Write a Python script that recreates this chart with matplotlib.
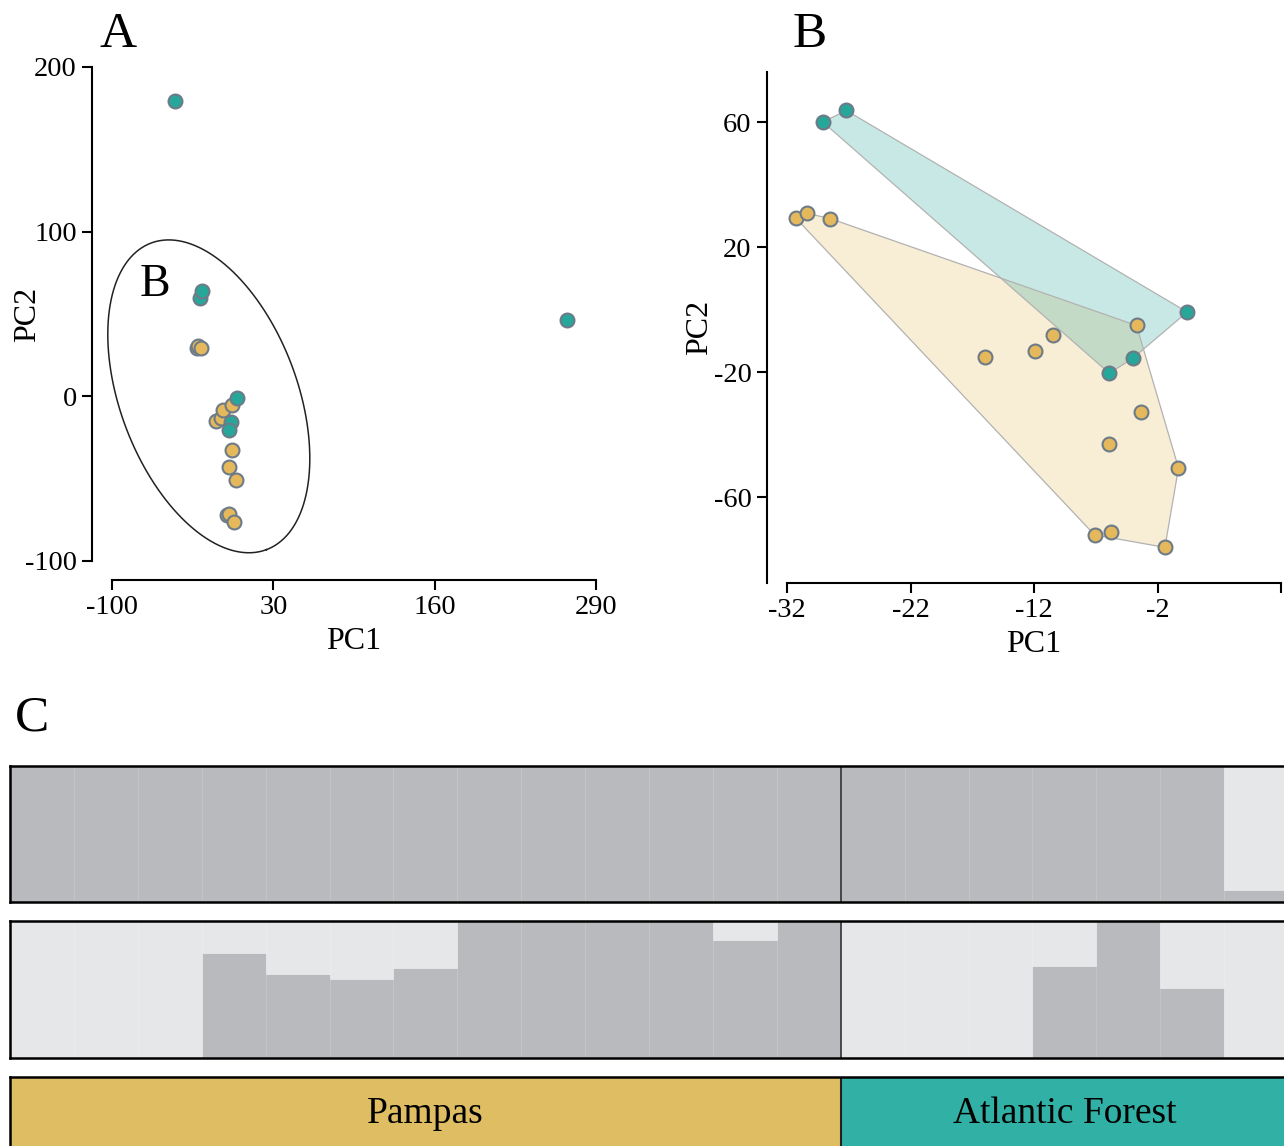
import matplotlib
matplotlib.use('Agg')
import matplotlib.pyplot as plt
import numpy as np

plt.rcParams['font.family'] = ['Liberation Serif', 'DejaVu Serif']
plt.rcParams['axes.unicode_minus'] = False

# PCA scores
atl_pc1 = [-29.1, -27.2, 0.4, -4.0, -5.9, -49.2, 266.6]
atl_pc2 = [60.0, 63.7, -0.8, -15.6, -20.4, 179.4, 46.4]
pam_pc1 = [-31.3, -30.4, -28.5, -16.0, -11.9, -10.5, -3.7, -3.3, -5.9, -0.3, -7.1, -5.8, -1.4]
pam_pc2 = [29.3, 30.8, 29.1, -15.1, -13.2, -8.1, -5.1, -32.8, -43.0, -50.7, -72.1, -71.3, -76.1]

# STRUCTURE membership (share of the dark cluster), one value per individual
pops = ['Pampas', 'Atlantic Forest']
pop_sizes = [13, 7]
k_top_dark = [1, 1, 1, 1, 1, 1, 1, 1, 1, 1, 1, 1, 1, 1, 1, 1, 1, 1, 1, 0.09]
k_bot_dark = [0, 0, 0, 0.77, 0.61, 0.58, 0.66, 1, 1, 1, 1, 0.86, 1,
              0, 0, 0, 0.67, 1, 0.51, 0]

# zoom ellipse drawn in panel A (centre and two semi-axis vectors, data units)
ell_center = (-22.0, 0.0)
ell_u = (46.5, -93.1)
ell_v = (-66.8, -18.9)

teal = '#27a79a'
yellow = '#e5b95b'
edge = '#6d7b88'
dark_grey = '#b8babd'
light_grey = '#e6e7e8'
pop_colors = ['#dfbd63', '#31b1a5']

W, H = 1284, 1146
fig = plt.figure(figsize=(W / 100, H / 100), dpi=100)


def px_axes(x0, y0, x1, y1):
    # axes from pixel box (top-left origin)
    return fig.add_axes([x0 / W, 1 - y1 / H, (x1 - x0) / W, (y1 - y0) / H])


def hull(x, y):
    pts = sorted(set(zip(x, y)))

    def cross(o, a, b):
        return (a[0] - o[0]) * (b[1] - o[1]) - (a[1] - o[1]) * (b[0] - o[0])

    lower, upper = [], []
    for p in pts:
        while len(lower) >= 2 and cross(lower[-2], lower[-1], p) <= 0:
            lower.pop()
        lower.append(p)
    for p in reversed(pts):
        while len(upper) >= 2 and cross(upper[-2], upper[-1], p) <= 0:
            upper.pop()
        upper.append(p)
    return np.array(lower[:-1] + upper[:-1])


def style_axis(ax):
    for s in ['top', 'right']:
        ax.spines[s].set_visible(False)
    for s in ['left', 'bottom']:
        ax.spines[s].set_linewidth(1.5)
    ax.tick_params(direction='out', length=7, width=1.5, labelsize=20.5, pad=4)


def place_ylabel(ax, text, xfrac):
    ax.set_ylabel(text, fontsize=23)
    ax.yaxis.label.set_va('center')
    ax.yaxis.set_label_coords(xfrac, 0.5)


# ---- panel A ----
axA = px_axes(112, 67, 596, 561)
axA.set_xlim(-100, 290)
axA.set_ylim(-100, 200)
style_axis(axA)
axA.spines['left'].set_position(('outward', 14.4))
axA.spines['bottom'].set_position(('outward', 13.7))
axA.set_xticks([-100, 30, 160, 290])
axA.set_yticks([-100, 0, 100, 200])
axA.set_xlabel('PC1', fontsize=23, labelpad=5)
place_ylabel(axA, 'PC2', (28 - 112) / 484)

t = np.linspace(0, 2 * np.pi, 300)
ex = ell_center[0] + ell_u[0] * np.cos(t) + ell_v[0] * np.sin(t)
ey = ell_center[1] + ell_u[1] * np.cos(t) + ell_v[1] * np.sin(t)
axA.plot(ex, ey, color='#222222', lw=1.1, clip_on=False)
axA.text(-65, 68, 'B', fontsize=33, ha='center', va='center')

axA.scatter(pam_pc1, pam_pc2, s=100, c=yellow, edgecolors=edge, linewidths=1.5, zorder=3)
axA.scatter(atl_pc1, atl_pc2, s=100, c=teal, edgecolors=edge, linewidths=1.5, zorder=3)

# ---- panel B ----
axB = px_axes(787, 72, 1281, 583)
axB.set_xlim(-32, 8)
axB.set_ylim(-87.5, 76)
style_axis(axB)
axB.spines['left'].set_position(('outward', 14.4))
axB.set_xticks([-32, -22, -12, -2, 8])
axB.set_xticklabels(['-32', '-22', '-12', '-2', ''])
axB.set_yticks([-60, -20, 20, 60])
axB.set_xlabel('PC1', fontsize=23, labelpad=5)
place_ylabel(axB, 'PC2', (700 - 787) / 494)

x0, x1 = axB.get_xlim()
atl_in = [(a, b) for a, b in zip(atl_pc1, atl_pc2) if x0 <= a <= x1]
ax_b1 = [p[0] for p in atl_in]
ax_b2 = [p[1] for p in atl_in]

for xs, ys, col in [(pam_pc1, pam_pc2, yellow), (ax_b1, ax_b2, teal)]:
    hv = hull(xs, ys)
    axB.fill(hv[:, 0], hv[:, 1], facecolor=col, alpha=0.25, zorder=1)
    axB.fill(hv[:, 0], hv[:, 1], facecolor='none', edgecolor='#b2b2b2', lw=0.9, zorder=2)

axB.scatter(pam_pc1, pam_pc2, s=100, c=yellow, edgecolors=edge, linewidths=1.5, zorder=3)
axB.scatter(ax_b1, ax_b2, s=100, c=teal, edgecolors=edge, linewidths=1.5, zorder=3)

# ---- panel C: STRUCTURE bars ----
n = sum(pop_sizes)
ind = np.arange(n)
split = pop_sizes[0]


def structure_bar(ax, dark):
    dark = np.array(dark)
    ax.bar(ind, dark, width=1, align='edge', color=dark_grey, edgecolor='#c3c5c7', lw=0.4)
    ax.bar(ind, 1 - dark, bottom=dark, width=1, align='edge', color=light_grey,
           edgecolor='#eceded', lw=0.4)
    ax.axvline(split, color='#333333', lw=1.2)
    ax.set_xlim(0, n)
    ax.set_ylim(0, 1)
    ax.set_xticks([])
    ax.set_yticks([])
    for s in ax.spines.values():
        s.set_linewidth(1.8)


s1 = px_axes(10, 766, 1288, 902)
structure_bar(s1, k_top_dark)
s2 = px_axes(10, 921, 1288, 1058)
structure_bar(s2, k_bot_dark)

s3 = px_axes(10, 1077, 1288, 1150)
start = 0
for name, size, col in zip(pops, pop_sizes, pop_colors):
    s3.bar(start, 1, width=size, align='edge', color=col, lw=0)
    s3.text(start + size / 2, 0.5, name, ha='center', va='center', fontsize=27)
    start += size
s3.axvline(split, color='#222222', lw=1.5)
s3.set_xlim(0, n)
s3.set_ylim(0, 1)
s3.set_xticks([])
s3.set_yticks([])
for s in s3.spines.values():
    s.set_linewidth(1.8)

# panel letters
for letter, px, py in [('A', 118, 35), ('B', 810, 35), ('C', 32, 718)]:
    fig.text(px / W, 1 - py / H, letter, fontsize=37, ha='center', va='center')

fig.savefig('out.png', dpi=100)
